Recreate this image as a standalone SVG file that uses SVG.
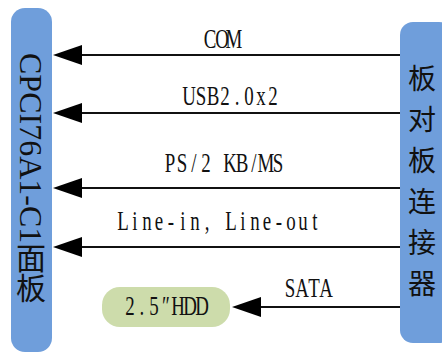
<svg xmlns="http://www.w3.org/2000/svg" width="442" height="354" viewBox="0 0 442 354">
<style>
.bar{fill:#6f9edb}
.hdd{fill:#cddcab}
.lbl{font-family:"Liberation Serif","DejaVu Serif",serif;font-size:27px;fill:#111;text-anchor:middle}
.cjk{font-family:"Noto Sans CJK SC","Noto Sans CJK JP",sans-serif;fill:#111}
.wire{stroke:#111;stroke-width:2;fill:none;marker-end:url(#ah)}
</style>
<defs>
<marker id="ah" markerUnits="userSpaceOnUse" viewBox="0 0 29 20" refX="22" refY="10" markerWidth="29" markerHeight="20" orient="auto">
<path d="M0,0 L29,10 L0,20 Z" fill="#000"/>
</marker>
</defs>
<g id="connectors">
<line class="wire" x1="400" y1="55" x2="60" y2="55"/>
<line class="wire" x1="400" y1="113" x2="60" y2="113"/>
<line class="wire" x1="400" y1="188" x2="60" y2="188"/>
<line class="wire" x1="400" y1="247" x2="60" y2="247"/>
<line class="wire" x1="400" y1="307" x2="239" y2="307"/>
<g transform="translate(204,48) scale(0.7,1)"><text class="lbl" x="8.57 25.71 42.86" y="0">COM</text></g>
<g transform="translate(183,105) scale(0.7,1)"><text class="lbl" x="8.57 25.71 42.86 60 77.14 94.29 111.43 128.57" y="0">USB2.0x2</text></g>
<g transform="translate(164,172) scale(0.7,1)"><text class="lbl" x="8.57 25.71 42.86 60 77.14 94.29 111.43 128.57 145.71 162.86" y="0">PS/2 KB/MS</text></g>
<g transform="translate(117,230) scale(0.7,1)"><text class="lbl" x="8.57 25.71 42.86 60 77.14 94.29 111.43 128.57 145.71 162.86 180 197.14 214.29 231.43 248.57 265.71 282.86" y="0">Line-in, Line-out</text></g>
<g transform="translate(284,297) scale(0.7,1)"><text class="lbl" x="8.57 25.71 42.86 60" y="0">SATA</text></g>
</g>
<g id="panel">
<rect class="bar" x="11" y="8" width="41" height="344" rx="14"/>
<text x="31" y="53" style="writing-mode:vertical-rl;fill:#111"><tspan style="font-family:'Liberation Serif','DejaVu Serif',serif;font-size:32px">CPCI76A1-C1</tspan><tspan class="cjk" style="font-size:30px">面板</tspan></text>
</g>
<g id="b2b">
<rect class="bar" x="400" y="22" width="52" height="321" rx="13"/>
<text class="cjk" x="422" y="64" style="writing-mode:vertical-rl;font-size:28px;letter-spacing:13px">板对板连接器</text>
</g>
<g id="hdd">
<rect class="hdd" x="102" y="287" width="128" height="40" rx="18"/>
<g transform="translate(124,315) scale(0.7,1)"><text class="lbl" x="8.57 25.71 42.86 60 77.14 94.29 111.43" y="0">2.5″HDD</text></g>
</g>
</svg>
